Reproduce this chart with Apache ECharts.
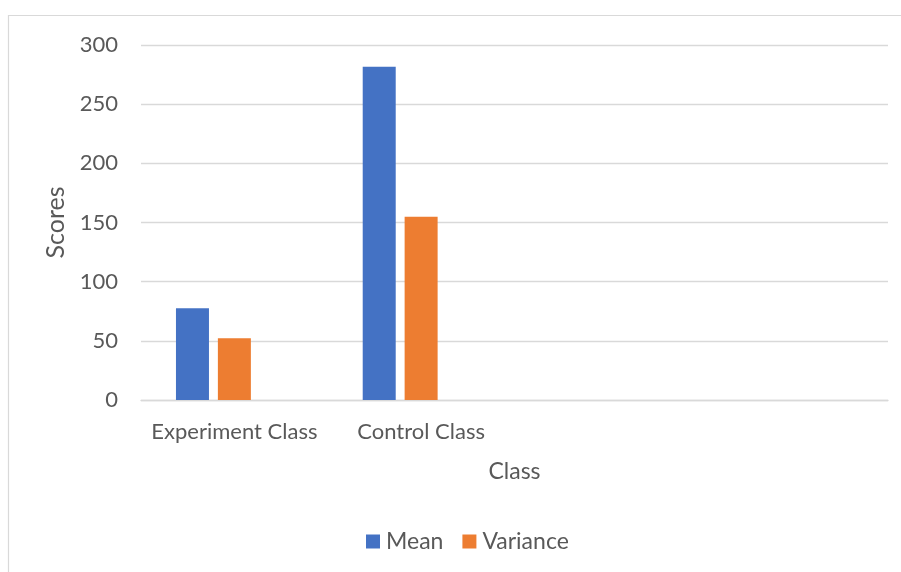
<!DOCTYPE html>
<html>
<head>
<meta charset="utf-8">
<script src="https://cdn.jsdelivr.net/npm/echarts@6/dist/echarts.min.js"></script>
<style>
  html, body { margin: 0; padding: 0; background: #fff; }
  #chart { width: 901px; height: 572px; }
</style>
</head>
<body>
<div id="chart"></div>
<script>
// Class categories (the last two slots are empty)
const categories = ['Experiment Class', 'Control Class', '', ''];
// Series values
const meanValues = [77.5, 281.7, null, null];
const varianceValues = [52.1, 154.9, null, null];
// Third, empty series slot
const blankValues = [null, null, null, null];
// Value axis ticks
const yMin = 0;
const yMax = 300;
const yStep = 50;

const textColor = '#595959';
const fontFamily = 'Lato, "Open Sans", sans-serif';

const chart = echarts.init(document.getElementById('chart'), null, { renderer: 'canvas' });

chart.setOption({
  backgroundColor: '#ffffff',
  animation: false,
  graphic: [{
    type: 'rect',
    shape: { x: 8.5, y: 15.5, width: 1000, height: 700 },
    style: { fill: 'none', stroke: '#d9d9d9', lineWidth: 1.2 },
    silent: true,
    z: -1
  }],
  grid: { left: 141, right: 13, top: 45, bottom: 172, containLabel: false },
  legend: {
    data: ['Mean', 'Variance'],
    bottom: 14,
    left: 361,
    icon: 'rect',
    itemWidth: 14,
    itemHeight: 14,
    itemGap: 19,
    textStyle: { color: textColor, fontSize: 23, fontFamily: fontFamily, padding: [0, 0, 0, 1] }
  },
  xAxis: {
    type: 'category',
    data: categories,
    name: 'Class',
    nameLocation: 'middle',
    nameGap: 60,
    nameTextStyle: { color: textColor, fontSize: 23, fontFamily: fontFamily },
    axisLine: { show: true, lineStyle: { color: '#d9d9d9', width: 1.3 } },
    axisTick: { show: false },
    axisLabel: { color: textColor, fontSize: 22, fontFamily: fontFamily, margin: 21, interval: 0 }
  },
  yAxis: {
    type: 'value',
    min: yMin,
    max: yMax,
    interval: yStep,
    name: 'Scores',
    nameLocation: 'middle',
    nameGap: 69,
    nameRotate: 90,
    nameTextStyle: { color: textColor, fontSize: 25, fontFamily: fontFamily },
    axisLine: { show: false },
    axisTick: { show: false },
    axisLabel: { color: textColor, fontSize: 22, fontFamily: fontFamily, margin: 23 },
    splitLine: { lineStyle: { color: '#d9d9d9', width: 1.3 } }
  },
  series: [
    {
      name: 'Mean',
      type: 'bar',
      data: meanValues,
      barWidth: 33,
      barGap: '27%',
      itemStyle: { color: '#4472C4' }
    },
    {
      name: 'Variance',
      type: 'bar',
      data: varianceValues,
      barWidth: 33,
      barGap: '27%',
      itemStyle: { color: '#ED7D31' }
    },
    {
      name: 'blank',
      type: 'bar',
      data: blankValues,
      barWidth: 33,
      barGap: '27%',
      itemStyle: { color: '#A5A5A5' }
    }
  ]
});
</script>
</body>
</html>
